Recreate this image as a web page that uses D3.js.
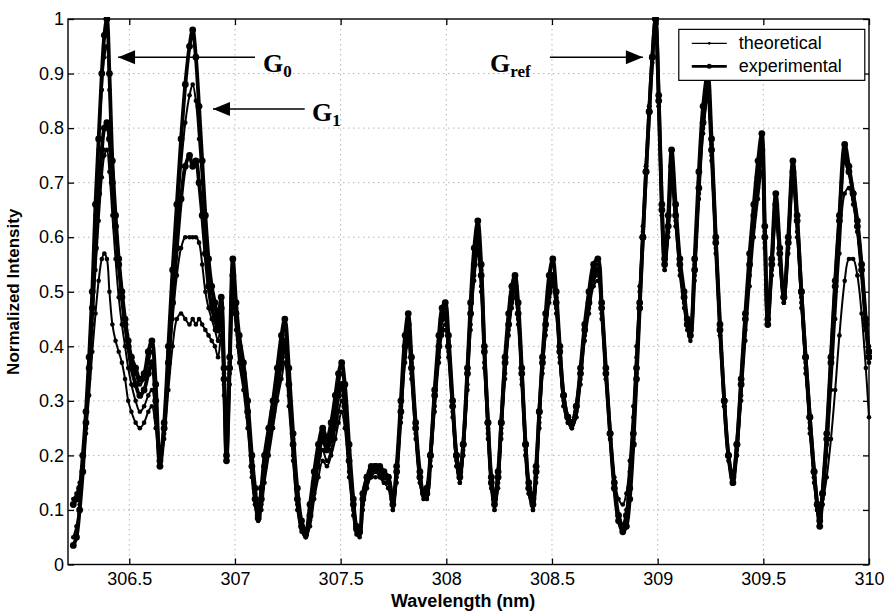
<!DOCTYPE html>
<html lang="en">
<head>
  <meta charset="UTF-8">
  <title>Normalized Intensity vs Wavelength</title>
  <style>
    body { margin: 0; background: #fff; }
    svg { display: block; font-family: "Liberation Sans", Arial, sans-serif; }
    .grid line { stroke: #b5b5b5; stroke-dasharray: 1.5,3.5; }
    .axis path, .axis line { stroke: #000; stroke-width: 1.3; }
    .axis text { font-size: 18px; fill: #000; }
    .legend text { font-size: 18px; }
    .note { font-family: "Liberation Serif", "Times New Roman", serif; font-weight: bold; }
  </style>
</head>
<body>
  <svg id="chart"></svg>

  <script src="https://d3js.org/d3.v7.min.js"></script>
  <script>
    // wavelength grid (nm), shared by every curve
    const wavelength = [
      306.235,306.25,306.265,306.28,306.295,306.31,306.325,306.34,306.355,306.37,
      306.382,306.394,306.406,306.42,306.435,306.45,306.465,306.48,306.495,306.51,
      306.53,306.55,306.57,306.59,306.607,306.625,306.645,306.665,306.685,306.705,
      306.725,306.745,306.765,306.785,306.80,306.815,306.83,306.845,306.86,306.875,
      306.89,306.905,306.92,306.935,306.948,306.96,306.975,306.99,307.005,307.02,
      307.04,307.06,307.08,307.095,307.11,307.125,307.14,307.16,307.18,307.20,
      307.22,307.236,307.255,307.275,307.295,307.315,307.335,307.355,307.375,307.395,
      307.415,307.435,307.455,307.475,307.49,307.505,307.52,307.54,307.56,307.575,
      307.59,307.605,307.625,307.645,307.665,307.685,307.705,307.725,307.747,307.765,
      307.785,307.805,307.82,307.835,307.855,307.875,307.893,307.908,307.925,307.945,
      307.965,307.98,307.995,308.01,308.03,308.048,308.064,308.08,308.10,308.115,
      308.132,308.149,308.165,308.18,308.197,308.213,308.228,308.245,308.26,308.278,
      308.295,308.31,308.325,308.34,308.357,308.375,308.39,308.41,308.425,308.44,
      308.455,308.47,308.487,308.504,308.52,308.537,308.555,308.575,308.594,308.615,
      308.635,308.655,308.675,308.697,308.717,308.735,308.755,308.775,308.795,308.815,
      308.835,308.852,308.868,308.885,308.90,308.915,308.93,308.945,308.96,308.975,
      308.99,309.005,309.02,309.033,309.05,309.066,309.085,309.105,309.125,309.14,
      309.155,309.175,309.195,309.215,309.237,309.255,309.275,309.295,309.315,309.335,
      309.356,309.375,309.395,309.415,309.435,309.455,309.475,309.493,309.507,309.521,
      309.54,309.559,309.578,309.597,309.618,309.64,309.66,309.68,309.70,309.72,
      309.74,309.755,309.767,309.78,309.80,309.82,309.84,309.86,309.885,309.905,
      309.925,309.945,309.965,309.985,310.0
    ];

    // experimental spectrum 1 (G0 = 1.00, G1 = 0.98)
    const experimental1 = [
      0.11,0.12,0.14,0.20,0.28,0.38,0.50,0.66,0.78,0.90,
      0.97,1.00,0.90,0.74,0.64,0.56,0.50,0.45,0.41,0.38,
      0.36,0.34,0.35,0.39,0.41,0.33,0.19,0.26,0.40,0.54,
      0.66,0.78,0.88,0.95,0.98,0.93,0.84,0.74,0.64,0.56,
      0.51,0.48,0.45,0.49,0.36,0.20,0.38,0.56,0.48,0.42,
      0.37,0.30,0.20,0.14,0.09,0.14,0.20,0.25,0.30,0.36,
      0.42,0.45,0.36,0.24,0.14,0.08,0.06,0.11,0.17,0.22,
      0.25,0.23,0.26,0.31,0.35,0.37,0.33,0.22,0.12,0.07,
      0.06,0.12,0.16,0.17,0.18,0.17,0.16,0.16,0.11,0.18,
      0.30,0.42,0.46,0.38,0.26,0.17,0.13,0.13,0.20,0.32,
      0.42,0.47,0.48,0.42,0.30,0.20,0.16,0.22,0.36,0.48,
      0.58,0.63,0.55,0.40,0.26,0.15,0.11,0.16,0.26,0.38,
      0.46,0.51,0.53,0.48,0.36,0.22,0.14,0.11,0.17,0.28,
      0.38,0.46,0.53,0.56,0.50,0.40,0.31,0.27,0.26,0.29,
      0.36,0.44,0.50,0.55,0.56,0.48,0.36,0.24,0.14,0.08,
      0.06,0.07,0.12,0.22,0.34,0.47,0.60,0.72,0.83,0.93,
      1.00,0.86,0.66,0.56,0.64,0.76,0.66,0.56,0.50,0.45,
      0.43,0.56,0.72,0.84,0.90,0.78,0.60,0.44,0.30,0.20,
      0.15,0.22,0.34,0.46,0.57,0.66,0.74,0.79,0.62,0.44,
      0.56,0.68,0.58,0.49,0.60,0.74,0.64,0.50,0.38,0.27,
      0.17,0.11,0.07,0.13,0.24,0.38,0.52,0.64,0.77,0.73,
      0.68,0.62,0.54,0.44,0.38
    ];

    // experimental spectrum 2 (G0 = 0.81, G1 = 0.75)
    const experimental2 = [
      0.035,0.05,0.10,0.17,0.26,0.36,0.47,0.58,0.68,0.76,
      0.80,0.81,0.78,0.70,0.62,0.55,0.49,0.44,0.40,0.36,
      0.33,0.31,0.32,0.35,0.37,0.30,0.18,0.25,0.37,0.48,
      0.58,0.67,0.73,0.75,0.73,0.74,0.70,0.64,0.57,0.51,
      0.47,0.45,0.43,0.47,0.34,0.19,0.36,0.53,0.46,0.40,
      0.35,0.28,0.18,0.12,0.085,0.12,0.18,0.23,0.28,0.33,
      0.38,0.41,0.33,0.22,0.12,0.07,0.055,0.09,0.15,0.20,
      0.23,0.21,0.23,0.27,0.31,0.33,0.29,0.19,0.11,0.065,
      0.06,0.13,0.16,0.18,0.18,0.18,0.17,0.16,0.12,0.17,
      0.28,0.40,0.44,0.36,0.25,0.16,0.13,0.14,0.20,0.31,
      0.40,0.45,0.46,0.40,0.29,0.20,0.17,0.22,0.35,0.46,
      0.55,0.60,0.53,0.39,0.26,0.16,0.12,0.17,0.26,0.37,
      0.44,0.49,0.51,0.46,0.35,0.22,0.15,0.12,0.18,0.28,
      0.37,0.44,0.50,0.53,0.48,0.39,0.31,0.27,0.26,0.29,
      0.35,0.43,0.48,0.53,0.54,0.47,0.35,0.24,0.15,0.09,
      0.07,0.09,0.14,0.24,0.36,0.48,0.60,0.72,0.83,0.93,
      1.00,0.85,0.65,0.55,0.62,0.73,0.64,0.55,0.49,0.44,
      0.42,0.54,0.69,0.81,0.87,0.76,0.59,0.43,0.30,0.20,
      0.16,0.22,0.33,0.45,0.55,0.64,0.71,0.76,0.60,0.45,
      0.55,0.66,0.57,0.49,0.59,0.72,0.63,0.50,0.38,0.27,
      0.17,0.11,0.08,0.13,0.23,0.37,0.51,0.63,0.74,0.72,
      0.68,0.63,0.55,0.45,0.39
    ];

    // theoretical spectrum 1 (G0 = 0.95, G1 = 0.88)
    const theoretical1 = [
      0.12,0.13,0.15,0.20,0.28,0.38,0.50,0.64,0.76,0.87,
      0.93,0.95,0.87,0.72,0.62,0.55,0.49,0.44,0.40,0.37,
      0.35,0.33,0.34,0.37,0.39,0.31,0.19,0.26,0.39,0.52,
      0.63,0.73,0.81,0.86,0.88,0.85,0.78,0.70,0.61,0.54,
      0.50,0.47,0.44,0.48,0.35,0.20,0.37,0.54,0.47,0.41,
      0.36,0.29,0.19,0.13,0.09,0.13,0.19,0.24,0.29,0.34,
      0.40,0.43,0.35,0.23,0.13,0.08,0.06,0.10,0.16,0.21,
      0.24,0.22,0.25,0.29,0.33,0.35,0.31,0.21,0.12,0.07,
      0.06,0.12,0.15,0.17,0.17,0.17,0.16,0.15,0.11,0.17,
      0.29,0.41,0.45,0.37,0.25,0.16,0.13,0.13,0.19,0.31,
      0.41,0.46,0.47,0.41,0.29,0.19,0.16,0.21,0.35,0.47,
      0.56,0.61,0.54,0.39,0.25,0.15,0.11,0.16,0.25,0.37,
      0.45,0.50,0.52,0.47,0.35,0.21,0.14,0.11,0.17,0.27,
      0.37,0.45,0.52,0.55,0.49,0.39,0.30,0.27,0.26,0.28,
      0.35,0.43,0.49,0.54,0.55,0.47,0.35,0.23,0.14,0.08,
      0.07,0.08,0.13,0.23,0.35,0.48,0.60,0.72,0.83,0.92,
      0.99,0.85,0.65,0.55,0.63,0.74,0.65,0.55,0.49,0.44,
      0.42,0.55,0.70,0.82,0.88,0.77,0.59,0.43,0.29,0.20,
      0.15,0.21,0.33,0.45,0.56,0.65,0.72,0.77,0.61,0.44,
      0.55,0.66,0.57,0.48,0.59,0.72,0.63,0.49,0.37,0.26,
      0.16,0.10,0.07,0.12,0.22,0.36,0.50,0.62,0.75,0.72,
      0.67,0.61,0.53,0.43,0.37
    ];

    // theoretical spectrum 2 (G0 = 0.76, G1 = 0.60)
    const theoretical2 = [
      0.05,0.07,0.11,0.17,0.25,0.34,0.44,0.54,0.63,0.71,
      0.75,0.76,0.72,0.64,0.56,0.49,0.44,0.40,0.36,0.33,
      0.30,0.28,0.29,0.31,0.32,0.27,0.18,0.24,0.35,0.45,
      0.53,0.58,0.60,0.60,0.60,0.60,0.59,0.55,0.50,0.47,
      0.45,0.43,0.41,0.45,0.33,0.19,0.35,0.51,0.45,0.39,
      0.34,0.27,0.17,0.11,0.08,0.11,0.17,0.22,0.27,0.32,
      0.36,0.39,0.31,0.20,0.11,0.065,0.05,0.08,0.13,0.18,
      0.21,0.19,0.21,0.25,0.28,0.30,0.27,0.17,0.10,0.06,
      0.055,0.11,0.15,0.16,0.17,0.16,0.15,0.15,0.10,0.16,
      0.27,0.38,0.42,0.35,0.24,0.15,0.12,0.12,0.18,0.29,
      0.38,0.43,0.44,0.39,0.28,0.18,0.15,0.20,0.33,0.44,
      0.53,0.58,0.51,0.37,0.24,0.14,0.10,0.15,0.24,0.35,
      0.43,0.48,0.50,0.45,0.34,0.20,0.13,0.10,0.16,0.26,
      0.36,0.43,0.49,0.52,0.47,0.38,0.29,0.26,0.25,0.27,
      0.34,0.42,0.47,0.52,0.53,0.46,0.34,0.23,0.14,0.08,
      0.07,0.10,0.17,0.27,0.38,0.50,0.61,0.73,0.84,0.93,
      0.99,0.84,0.64,0.54,0.61,0.71,0.63,0.54,0.48,0.44,
      0.42,0.53,0.68,0.80,0.86,0.75,0.58,0.42,0.29,0.19,
      0.15,0.20,0.31,0.43,0.53,0.62,0.69,0.74,0.59,0.44,
      0.54,0.64,0.56,0.48,0.58,0.70,0.61,0.48,0.36,0.25,
      0.16,0.10,0.07,0.11,0.20,0.32,0.45,0.57,0.68,0.69,
      0.66,0.61,0.54,0.45,0.40
    ];

    // theoretical spectrum 3 (G0 = 0.57, G1 = 0.45)
    const theoretical3 = [
      0.11,0.12,0.14,0.18,0.24,0.31,0.39,0.46,0.52,0.56,
      0.57,0.56,0.50,0.44,0.41,0.39,0.37,0.34,0.30,0.28,
      0.26,0.25,0.26,0.28,0.29,0.25,0.19,0.23,0.32,0.40,
      0.45,0.46,0.45,0.44,0.45,0.44,0.45,0.44,0.43,0.42,
      0.41,0.40,0.38,0.42,0.31,0.19,0.33,0.48,0.43,0.37,
      0.32,0.25,0.16,0.11,0.08,0.10,0.15,0.20,0.25,0.30,
      0.34,0.37,0.29,0.19,0.10,0.06,0.05,0.07,0.12,0.16,
      0.19,0.18,0.20,0.23,0.26,0.28,0.25,0.16,0.09,0.055,
      0.05,0.10,0.14,0.16,0.16,0.16,0.15,0.14,0.10,0.15,
      0.26,0.37,0.41,0.34,0.23,0.15,0.12,0.12,0.18,0.28,
      0.37,0.42,0.43,0.38,0.27,0.18,0.15,0.20,0.32,0.43,
      0.52,0.57,0.50,0.36,0.23,0.14,0.10,0.14,0.23,0.34,
      0.42,0.47,0.49,0.44,0.33,0.20,0.13,0.10,0.15,0.25,
      0.35,0.42,0.48,0.51,0.46,0.37,0.29,0.26,0.25,0.27,
      0.33,0.41,0.46,0.51,0.52,0.45,0.34,0.24,0.16,0.12,
      0.11,0.13,0.19,0.29,0.40,0.51,0.62,0.73,0.84,0.93,
      0.99,0.84,0.64,0.54,0.60,0.70,0.62,0.53,0.47,0.43,
      0.41,0.52,0.67,0.79,0.85,0.74,0.57,0.42,0.29,0.20,
      0.16,0.20,0.30,0.41,0.51,0.60,0.67,0.72,0.58,0.44,
      0.53,0.63,0.55,0.48,0.57,0.69,0.60,0.47,0.35,0.24,
      0.15,0.10,0.08,0.11,0.16,0.23,0.32,0.42,0.52,0.56,
      0.56,0.53,0.46,0.36,0.27
    ];

    const xTicks = [306.5, 307, 307.5, 308, 308.5, 309, 309.5, 310];
    const yTicks = [0, 0.1, 0.2, 0.3, 0.4, 0.5, 0.6, 0.7, 0.8, 0.9, 1];
    const legendLabels = ["theoretical", "experimental"];

    const series = [
      { kind: "theoretical", values: theoretical3 },
      { kind: "theoretical", values: theoretical2 },
      { kind: "theoretical", values: theoretical1 },
      { kind: "experimental", values: experimental2 },
      { kind: "experimental", values: experimental1 }
    ];

    const style = {
      theoretical: { width: 2, r: 2.3 },
      experimental: { width: 3.8, r: 3.4 }
    };

    const svgWidth = 888, svgHeight = 612;
    const margin = { top: 19, right: 19, bottom: 47.5, left: 68 };
    const width = svgWidth - margin.left - margin.right;
    const height = svgHeight - margin.top - margin.bottom;

    const svg = d3.select("#chart")
      .attr("width", svgWidth)
      .attr("height", svgHeight);

    const g = svg.append("g")
      .attr("transform", `translate(${margin.left},${margin.top})`);

    const x = d3.scaleLinear().domain([306.21, 310]).range([0, width]);
    const y = d3.scaleLinear().domain([0, 1]).range([height, 0]);

    // dotted grid
    const grid = g.append("g").attr("class", "grid");
    grid.selectAll(".gx").data(xTicks.slice(0, -1)).enter().append("line")
      .attr("x1", d => x(d)).attr("x2", d => x(d))
      .attr("y1", 0).attr("y2", height);
    grid.selectAll(".gy").data(yTicks.slice(1, -1)).enter().append("line")
      .attr("x1", 0).attr("x2", width)
      .attr("y1", d => y(d)).attr("y2", d => y(d));

    g.append("clipPath").attr("id", "plot-clip")
      .append("rect").attr("x", -3).attr("y", -2).attr("width", width + 6).attr("height", height + 4);

    const plot = g.append("g").attr("clip-path", "url(#plot-clip)");

    const line = d3.line()
      .x(d => x(d[0]))
      .y(d => y(d[1]))
      .curve(d3.curveCatmullRom.alpha(0.5));

    series.forEach(s => {
      const pts = wavelength.map((w, i) => [w, s.values[i]]).filter(p => p[1] != null);
      const st = style[s.kind];
      plot.append("path")
        .datum(pts)
        .attr("fill", "none")
        .attr("stroke", "#000")
        .attr("stroke-width", st.width)
        .attr("stroke-linejoin", "round")
        .attr("d", line);
      plot.append("g").selectAll("circle").data(pts).enter().append("circle")
        .attr("cx", d => x(d[0]))
        .attr("cy", d => y(d[1]))
        .attr("r", st.r)
        .attr("fill", "#000");
    });

    // axes, MATLAB-style box with inward ticks
    const tickLen = 6;
    g.append("g").attr("class", "axis")
      .attr("transform", `translate(0,${height})`)
      .call(d3.axisBottom(x).tickValues(xTicks).tickSizeInner(-tickLen).tickSizeOuter(0).tickPadding(8).tickFormat(d3.format("")));
    g.append("g").attr("class", "axis")
      .call(d3.axisTop(x).tickValues(xTicks).tickSizeInner(-tickLen).tickSizeOuter(0).tickFormat(""));
    g.append("g").attr("class", "axis")
      .call(d3.axisLeft(y).tickValues(yTicks).tickSizeInner(-tickLen).tickSizeOuter(0).tickPadding(4).tickFormat(d3.format("")));
    g.append("g").attr("class", "axis")
      .attr("transform", `translate(${width},0)`)
      .call(d3.axisRight(y).tickValues(yTicks).tickSizeInner(-tickLen).tickSizeOuter(0).tickFormat(""));

    g.selectAll(".axis .domain").remove();
    g.append("rect")
      .attr("width", width).attr("height", height)
      .attr("fill", "none").attr("stroke", "#000").attr("stroke-width", 1.4);

    // axis titles
    svg.append("text")
      .attr("x", margin.left + x(308.08)).attr("y", 607)
      .attr("text-anchor", "middle")
      .attr("font-size", 18).attr("font-weight", "bold")
      .text("Wavelength (nm)");
    svg.append("text")
      .attr("transform", `translate(19,${margin.top + y(0.5)}) rotate(-90)`)
      .attr("text-anchor", "middle")
      .attr("font-size", 17).attr("font-weight", "bold")
      .text("Normalized Intensity");

    // legend
    const legend = g.append("g").attr("class", "legend")
      .attr("transform", `translate(${x(309.1)},${y(0.981)})`);
    legend.append("rect")
      .attr("width", 186).attr("height", 51)
      .attr("fill", "#fff").attr("stroke", "#000").attr("stroke-width", 1.2);
    legendLabels.forEach((lab, i) => {
      const st = style[lab];
      const ly = 14 + i * 23;
      legend.append("line")
        .attr("x1", 13).attr("x2", 48).attr("y1", ly).attr("y2", ly)
        .attr("stroke", "#000").attr("stroke-width", st.width - 0.9);
      legend.append("circle").attr("cx", 30.5).attr("cy", ly).attr("r", st.r - 0.9).attr("fill", "#000");
      legend.append("text")
        .attr("x", 60).attr("y", ly + 6)
        .text(lab);
    });

    // peak annotations with arrows
    const arrows = [
      { from: 307.095, to: 306.447, v: 0.93 },
      { from: 307.33, to: 306.896, v: 0.835 },
      { from: 308.49, to: 308.93, v: 0.93 }
    ];
    arrows.forEach(a => {
      g.append("line")
        .attr("x1", x(a.from)).attr("x2", x(a.to))
        .attr("y1", y(a.v)).attr("y2", y(a.v))
        .attr("stroke", "#000").attr("stroke-width", 1.5);
      g.append("path")
        .attr("d", () => {
          const tx = x(a.to), ty = y(a.v), dir = a.to < a.from ? 1 : -1;
          return `M${tx},${ty} L${tx + dir * 17},${ty - 7} L${tx + dir * 17},${ty + 7} Z`;
        })
        .attr("fill", "#000");
    });

    const notes = [
      { w: 307.133, v: 0.917, main: "G", sub: "0" },
      { w: 307.364, v: 0.827, main: "G", sub: "1" },
      { w: 308.207, v: 0.917, main: "G", sub: "ref" }
    ];
    notes.forEach(n => {
      const t = g.append("text").attr("class", "note")
        .attr("x", x(n.w)).attr("y", y(n.v) + 8)
        .attr("font-size", 26);
      t.append("tspan").text(n.main);
      t.append("tspan").attr("dy", 5).attr("font-size", 17).text(n.sub);
    });
  </script>
</body>
</html>
